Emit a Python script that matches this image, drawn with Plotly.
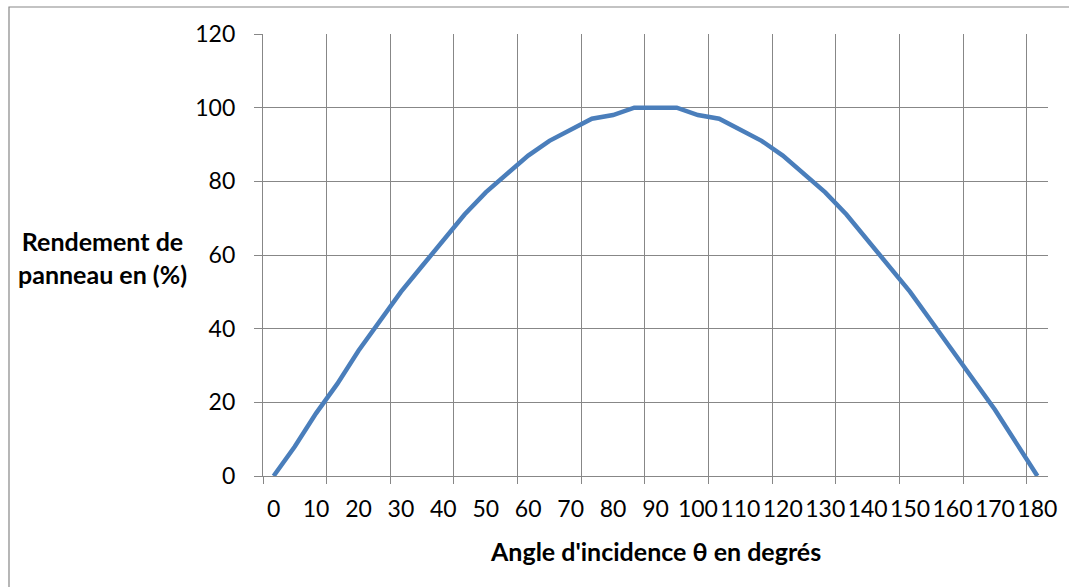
import plotly.graph_objects as go

# Data
angles = [0, 5, 10, 15, 20, 25, 30, 35, 40, 45, 50, 55, 60, 65, 70, 75, 80, 85, 90,
          95, 100, 105, 110, 115, 120, 125, 130, 135, 140, 145, 150, 155, 160, 165, 170, 175, 180]
rendement = [0, 8, 17, 25, 34, 42, 50, 57, 64, 71, 77, 82, 87, 91, 94, 97, 98, 100, 100,
             100, 98, 97, 94, 91, 87, 82, 77, 71, 64, 57, 50, 42, 34, 26, 18, 9, 0]
x_tick_labels = [str(v) for v in range(0, 181, 10)]
x_tick_vals = list(range(0, 181, 10))
grid_x = [-2.5 + 15 * k for k in range(13)]
y_ticks = [0, 20, 40, 60, 80, 100, 120]

GRID = "#878787"
FONT = "Lato, 'Open Sans', sans-serif"

W, H = 1069, 587
L, R, T, B = 263, 21, 34, 111
pw, ph = W - L - R, H - T - B

def px(xp):
    return (xp - L) / pw

def py(yp):
    return (H - B - yp) / ph

fig = go.Figure()
fig.add_trace(go.Scatter(
    x=angles, y=rendement, mode="lines",
    line=dict(color="#4A7EBB", width=4.5),
    hoverinfo="x+y", showlegend=False,
))

fig.update_layout(
    width=W, height=H,
    margin=dict(l=L, r=R, t=T, b=B, pad=0),
    paper_bgcolor="white", plot_bgcolor="white",
    font=dict(family=FONT, color="#000000", size=23),
    xaxis=dict(
        range=[-2.5, 182.5],
        tickmode="array", tickvals=x_tick_vals, ticktext=x_tick_labels,
        showgrid=False, ticks="", zeroline=False,
        showline=True, linecolor=GRID, linewidth=1.3,
        tickfont=dict(size=23, family=FONT),
        ticklabelstandoff=12,
        minor=dict(tickmode="array", tickvals=grid_x, showgrid=True,
                   gridcolor=GRID, gridwidth=1.3, ticks="outside",
                   ticklen=7, tickcolor=GRID, tickwidth=1.3),
    ),
    yaxis=dict(
        range=[0, 120], tickmode="array", tickvals=y_ticks,
        showgrid=True, gridcolor=GRID, gridwidth=1.3,
        zeroline=False, showline=True, linecolor=GRID, linewidth=1.3,
        ticks="outside", ticklen=8, tickcolor=GRID, tickwidth=1.3,
        tickfont=dict(size=23, family=FONT),
        ticklabelstandoff=14,
    ),
    annotations=[
        dict(text="<b>Rendement de<br>panneau en (%)</b>", xref="paper", yref="paper",
             x=px(102), y=py(257), xanchor="center", yanchor="middle",
             showarrow=False, font=dict(size=25, family=FONT), align="center"),
        dict(text="<b>Angle d'incidence θ en degrés</b>", xref="paper", yref="paper",
             x=px(655), y=py(551), xanchor="center", yanchor="middle",
             showarrow=False, font=dict(size=25, family=FONT)),
    ],
    shapes=[
        dict(type="rect", xref="paper", yref="paper",
             x0=px(9), x1=px(1080), y0=py(600), y1=py(7),
             line=dict(color=GRID, width=1.2), fillcolor="rgba(0,0,0,0)", layer="below"),
    ],
)

fig.write_html("out.html")
